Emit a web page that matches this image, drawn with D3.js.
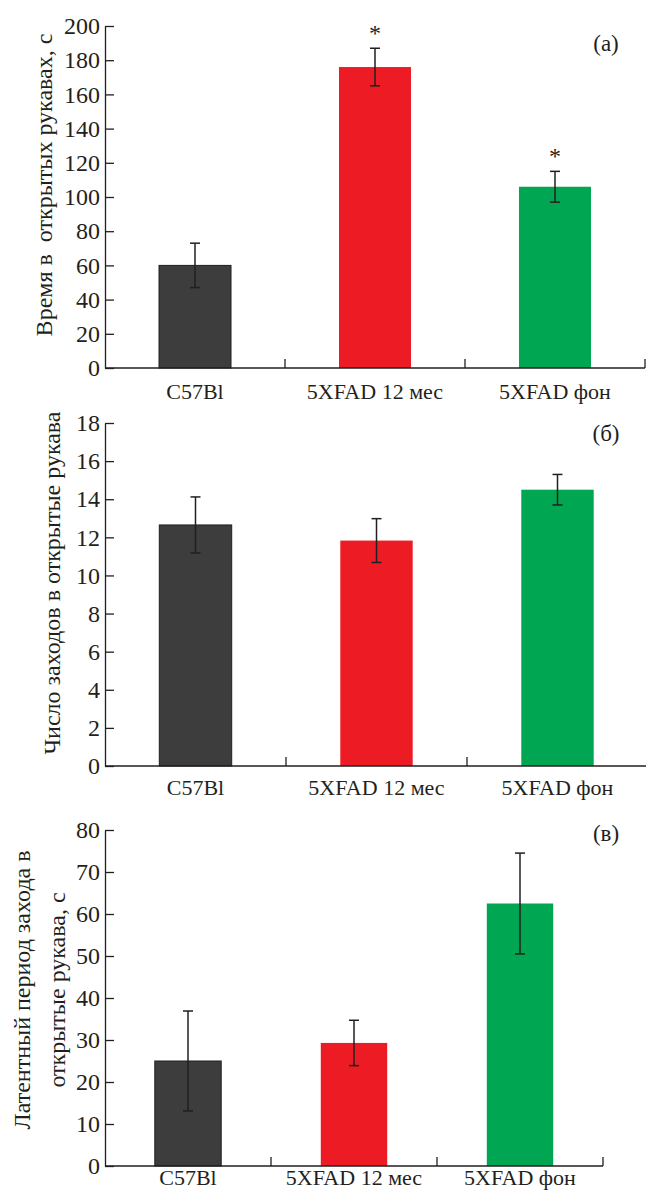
<!DOCTYPE html>
<html>
<head>
<meta charset="utf-8">
<script src="https://cdn.jsdelivr.net/npm/d3@7"></script>
<style>
  html, body { margin: 0; padding: 0; background: #fff; }
</style>
</head>
<body>
<svg id="chart" width="646" height="1200"></svg>
<script>
// Data (mean ± error)
const categories = ["C57Bl", "5XFAD 12 мес", "5XFAD фон"];
const barColors = ["#3d3d3d", "#ed1c24", "#00a651"];

const timeOpen = [60, 176, 106];
const timeOpenErr = [13, 11, 9];
const timeOpenStar = [false, true, true];
const timeTicks = [0, 20, 40, 60, 80, 100, 120, 140, 160, 180, 200];

const entries = [12.65, 11.83, 14.5];
const entriesErr = [1.47, 1.15, 0.8];
const entriesTicks = [0, 2, 4, 6, 8, 10, 12, 14, 16, 18];

const latency = [25, 29.3, 62.5];
const latencyErr = [11.9, 5.4, 12];
const latencyTicks = [0, 10, 20, 30, 40, 50, 60, 70, 80];

const INK = "#231f20";
const FONT = '"Liberation Serif", "Times New Roman", Tinos, serif';
const svg = d3.select("#chart");

function panel(opts) {
  const { values, errs, stars, ticks, yMax, xRange, yRange, xLabelY,
          title, titleX, titleY, tag, tagY } = opts;

  const x = d3.scaleBand().domain(categories).range(xRange).paddingInner(0).paddingOuter(0);
  const y = d3.scaleLinear().domain([0, yMax]).range(yRange);
  const g = svg.append("g");
  const cx = (i) => x(categories[i]) + x.bandwidth() / 2;

  // bars (40% of the category slot)
  const bw = x.bandwidth() * 0.4;
  g.selectAll("rect.bar").data(values).enter().append("rect")
    .attr("class", "bar")
    .attr("x", (d, i) => cx(i) - bw / 2)
    .attr("y", d => y(d))
    .attr("width", bw)
    .attr("height", d => y(0) - y(d))
    .attr("fill", (d, i) => barColors[i])
    .attr("stroke", (d, i) => i === 0 ? INK : "none")
    .attr("stroke-width", 1);

  // error bars
  const eb = g.selectAll("g.err").data(values).enter().append("g").attr("class", "err")
    .attr("stroke", INK).attr("stroke-width", 1.5);
  eb.append("line")
    .attr("x1", (d, i) => cx(i)).attr("x2", (d, i) => cx(i))
    .attr("y1", (d, i) => y(d + errs[i])).attr("y2", (d, i) => y(d - errs[i]));
  eb.append("line")
    .attr("x1", (d, i) => cx(i) - 5).attr("x2", (d, i) => cx(i) + 5)
    .attr("y1", (d, i) => y(d + errs[i])).attr("y2", (d, i) => y(d + errs[i]));
  eb.append("line")
    .attr("x1", (d, i) => cx(i) - 5).attr("x2", (d, i) => cx(i) + 5)
    .attr("y1", (d, i) => y(d - errs[i])).attr("y2", (d, i) => y(d - errs[i]));

  // significance stars
  if (stars) {
    values.forEach((d, i) => {
      if (!stars[i]) return;
      g.append("text")
        .attr("x", cx(i)).attr("y", y(d + errs[i]) - 7)
        .attr("text-anchor", "middle").attr("font-size", 24).attr("fill", INK)
        .style("font-family", FONT)
        .text("*");
    });
  }

  // y axis, ticks pointing inward
  const ya = g.append("g").attr("transform", `translate(${xRange[0]},0)`)
    .call(d3.axisLeft(y).tickValues(ticks).tickSize(-9).tickPadding(5).tickSizeOuter(0));
  ya.select(".domain").attr("stroke", INK).attr("stroke-width", 1.3);
  ya.selectAll(".tick line").attr("stroke", INK).attr("stroke-width", 1.3);
  ya.selectAll(".tick text").attr("font-size", 24).attr("fill", INK)
    .style("font-family", FONT);

  // x axis with upward separator ticks at category boundaries
  const xa = g.append("g");
  xa.append("line")
    .attr("x1", xRange[0]).attr("x2", xRange[1])
    .attr("y1", y(0)).attr("y2", y(0))
    .attr("stroke", INK).attr("stroke-width", 1.3);
  xa.selectAll("line.sep").data(categories).enter().append("line").attr("class", "sep")
    .attr("x1", d => x(d) + x.bandwidth()).attr("x2", d => x(d) + x.bandwidth())
    .attr("y1", y(0)).attr("y2", y(0) - 9)
    .attr("stroke", INK).attr("stroke-width", 1.3);
  xa.selectAll("text").data(categories).enter().append("text")
    .attr("x", d => x(d) + x.bandwidth() / 2)
    .attr("y", xLabelY).attr("dy", "0.35em")
    .attr("text-anchor", "middle").attr("font-size", 22).attr("fill", INK)
    .style("font-family", FONT)
    .text(d => d);

  // y title (may be multi-line)
  title.forEach((line, k) => {
    g.append("text")
      .attr("transform", `translate(${titleX[k]},${titleY}) rotate(-90)`)
      .attr("text-anchor", "middle").attr("dy", "0.35em")
      .attr("font-size", 24).attr("fill", INK)
      .style("font-family", FONT)
      .style("white-space", "pre")
      .text(line);
  });

  // panel tag
  g.append("text").attr("x", 606).attr("y", tagY).attr("dy", "0.35em")
    .attr("text-anchor", "middle").attr("font-size", 23).attr("fill", INK)
    .style("font-family", FONT)
    .text(tag);
}

panel({
  values: timeOpen, errs: timeOpenErr, stars: timeOpenStar, ticks: timeTicks, yMax: 200,
  xRange: [105, 645], yRange: [368, 26], xLabelY: 391,
  title: ["Время в  открытых рукавах, с"], titleX: [44], titleY: 185,
  tag: "(а)", tagY: 43
});

panel({
  values: entries, errs: entriesErr, stars: null, ticks: entriesTicks, yMax: 18,
  xRange: [105, 648], yRange: [766, 423], xLabelY: 787,
  title: ["Число заходов в открытые рукава"], titleX: [52], titleY: 583,
  tag: "(б)", tagY: 433
});

panel({
  values: latency, errs: latencyErr, stars: null, ticks: latencyTicks, yMax: 80,
  xRange: [105, 603], yRange: [1166, 830], xLabelY: 1177,
  title: ["Латентный период захода в", "открытые рукава, с"], titleX: [22, 57], titleY: 990,
  tag: "(в)", tagY: 833
});
</script>
</body>
</html>
